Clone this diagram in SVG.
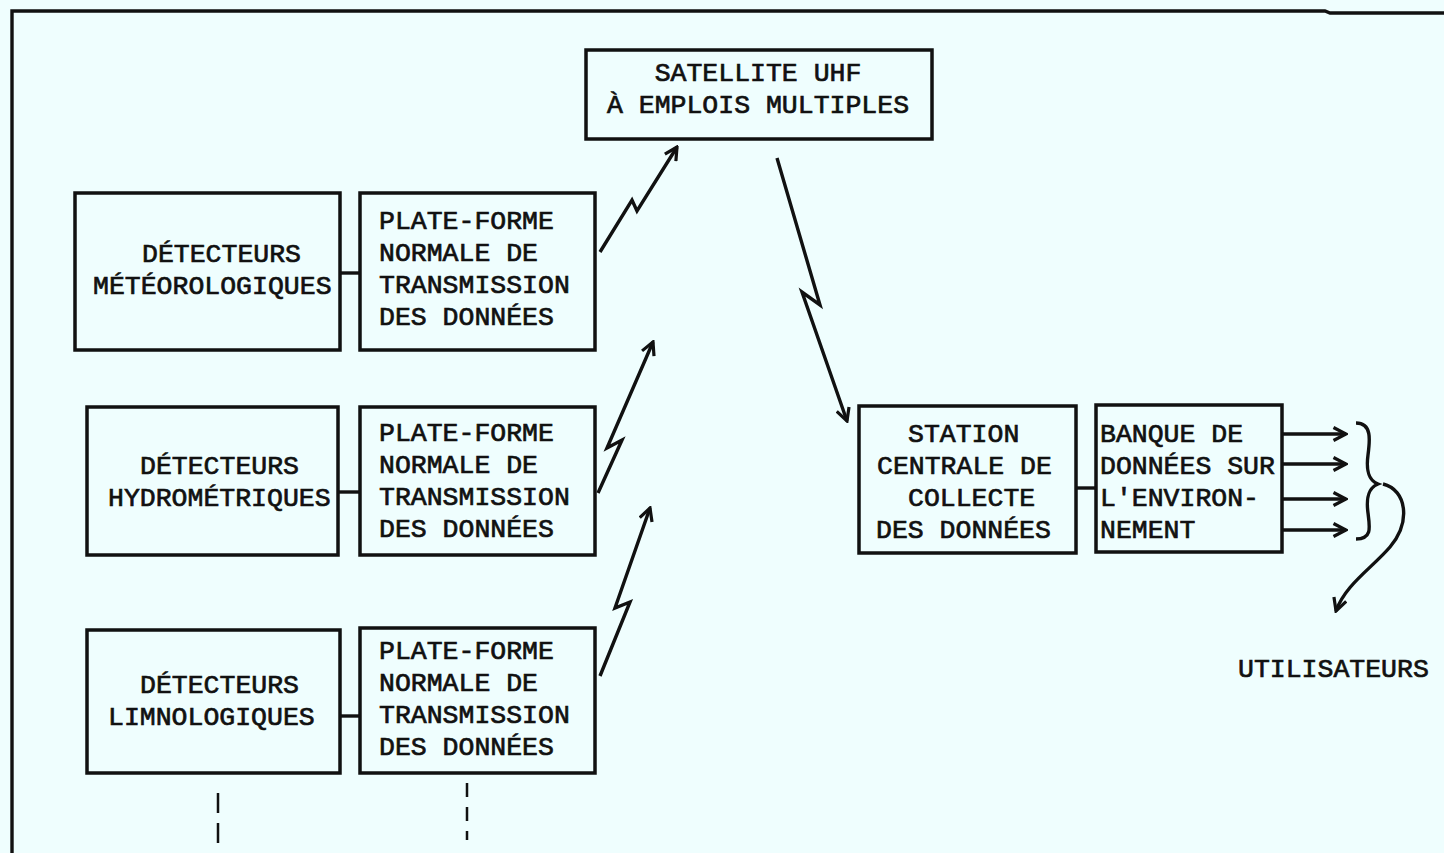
<svg xmlns="http://www.w3.org/2000/svg" width="1444" height="853" viewBox="0 0 1444 853">
<style>
  .bg { fill: #EFFEFE; }
  .box { fill: none; stroke: #111; stroke-width: 3.5; }
  .ln { fill: none; stroke: #111; stroke-width: 3.4; stroke-linejoin: miter; }
  .t { font-family: "Liberation Mono", "DejaVu Sans Mono", monospace; font-size: 26.5px; fill: #111; stroke: #111; stroke-width: 0.7; }
  .c { text-anchor: middle; }
  .dash { fill: none; stroke: #111; stroke-width: 2.5; }
</style>
<defs>
  <marker id="arr" viewBox="0 0 16 16" refX="14" refY="8" markerWidth="16" markerHeight="16" markerUnits="userSpaceOnUse" orient="auto">
    <path d="M1.5,1.5 L14,8 L1.5,14.5" fill="none" stroke="#111" stroke-width="3.2"/>
  </marker>
</defs>
<rect class="bg" x="0" y="0" width="1444" height="853"/>

<g id="frame">
  <path class="ln" d="M12,853 L12,11 L1325,11 L1330,13 L1444,13"/>
</g>

<g id="satellite">
  <rect class="box" x="586" y="50" width="346" height="89"/>
  <text class="t c" x="758" y="81">SATELLITE UHF</text>
  <text class="t c" x="758" y="113">À EMPLOIS MULTIPLES</text>
</g>

<g id="det-meteo">
  <rect class="box" x="75" y="193" width="265" height="157"/>
  <text class="t" x="142" y="262">DÉTECTEURS</text>
  <text class="t" x="93" y="294">MÉTÉOROLOGIQUES</text>
</g>
<g id="plate-1">
  <rect class="box" x="360" y="193" width="235" height="157"/>
  <text class="t" x="379" y="229">PLATE-FORME</text>
  <text class="t" x="379" y="261">NORMALE DE</text>
  <text class="t" x="379" y="293">TRANSMISSION</text>
  <text class="t" x="379" y="325">DES DONNÉES</text>
</g>

<g id="det-hydro">
  <rect class="box" x="87" y="407" width="251" height="148"/>
  <text class="t" x="140" y="474">DÉTECTEURS</text>
  <text class="t" x="108" y="506">HYDROMÉTRIQUES</text>
</g>
<g id="plate-2">
  <rect class="box" x="360" y="407" width="235" height="148"/>
  <text class="t" x="379" y="441">PLATE-FORME</text>
  <text class="t" x="379" y="473">NORMALE DE</text>
  <text class="t" x="379" y="505">TRANSMISSION</text>
  <text class="t" x="379" y="537">DES DONNÉES</text>
</g>

<g id="det-limno">
  <rect class="box" x="87" y="630" width="253" height="143"/>
  <text class="t" x="140" y="693">DÉTECTEURS</text>
  <text class="t" x="108" y="725">LIMNOLOGIQUES</text>
</g>
<g id="plate-3">
  <rect class="box" x="360" y="628" width="235" height="145"/>
  <text class="t" x="379" y="659">PLATE-FORME</text>
  <text class="t" x="379" y="691">NORMALE DE</text>
  <text class="t" x="379" y="723">TRANSMISSION</text>
  <text class="t" x="379" y="755">DES DONNÉES</text>
</g>

<g id="station">
  <rect class="box" x="859" y="406" width="217" height="147"/>
  <text class="t" x="908" y="442">STATION</text>
  <text class="t" x="877" y="474">CENTRALE DE</text>
  <text class="t" x="908" y="506">COLLECTE</text>
  <text class="t" x="876" y="538">DES DONNÉES</text>
</g>

<g id="banque">
  <rect class="box" x="1096" y="405" width="186" height="147"/>
  <text class="t" x="1100" y="442">BANQUE DE</text>
  <text class="t" x="1100" y="474">DONNÉES SUR</text>
  <text class="t" x="1100" y="506">L'ENVIRON-</text>
  <text class="t" x="1100" y="538">NEMENT</text>
</g>

<g id="utilisateurs">
  <text class="t" x="1238" y="677">UTILISATEURS</text>
</g>

<g id="connectors">
  <line class="ln" x1="340" y1="273" x2="360" y2="273"/>
  <line class="ln" x1="338" y1="492" x2="360" y2="492"/>
  <line class="ln" x1="340" y1="716" x2="360" y2="716"/>
  <line class="ln" x1="1076" y1="488" x2="1096" y2="488"/>

  <path class="ln" d="M600,252 L632,200 L637,211 L677,147" marker-end="url(#arr)"/>
  <path class="ln" d="M598,493 L622,440 L607,448 L653,342" marker-end="url(#arr)"/>
  <path class="ln" d="M600,676 L630,602 L615,608 L650,508" marker-end="url(#arr)"/>
  <path class="ln" d="M777,158 L820,305 L802,292 L847,421" marker-end="url(#arr)"/>

  <line class="ln" x1="1282" y1="434" x2="1346" y2="434" marker-end="url(#arr)"/>
  <line class="ln" x1="1282" y1="464" x2="1346" y2="464" marker-end="url(#arr)"/>
  <line class="ln" x1="1282" y1="499" x2="1346" y2="499" marker-end="url(#arr)"/>
  <line class="ln" x1="1282" y1="530" x2="1346" y2="530" marker-end="url(#arr)"/>

  <path class="ln" d="M1356,423 C1372,423 1370,440 1368,455 C1366,470 1368,480 1378,484 C1368,488 1366,498 1368,513 C1370,528 1372,539 1356,539"/>
  <path class="ln" d="M1383,484 C1407,490 1411,522 1390,547 C1372,568 1345,585 1336,611" marker-end="url(#arr)"/>

  <line class="dash" x1="218" y1="793" x2="218" y2="853" stroke-dasharray="20,10"/>
  <line class="dash" x1="467" y1="783" x2="467" y2="840" stroke-dasharray="14,10"/>
</g>
</svg>
